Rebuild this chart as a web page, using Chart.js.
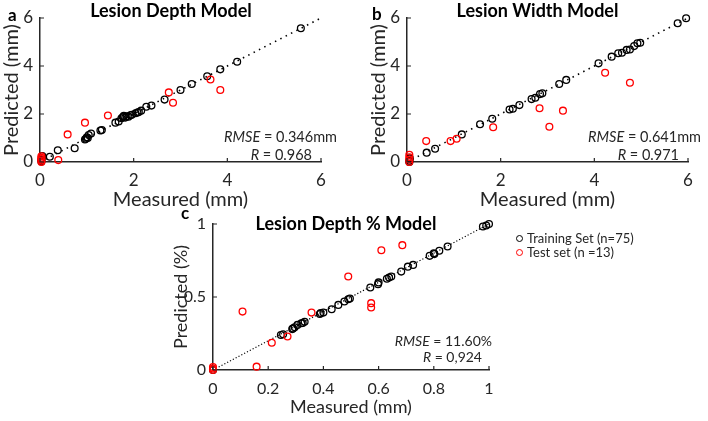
<!DOCTYPE html>
<html>
<head>
<meta charset="utf-8">
<script src="https://cdn.jsdelivr.net/npm/chart.js@4"></script>
<style>
  body { margin: 0; background: #fff; width: 708px; height: 421px; position: relative; overflow: hidden;
         font-family: Lato, "Open Sans", sans-serif; }
  canvas { position: absolute; }
  .title { position: absolute; font-weight: bold; color: #000; text-align: center; font-size: 18px; line-height: 20px; white-space: nowrap; }
  .letter { position: absolute; font-weight: bold; color: #000; font-size: 17px; line-height: 18px; }
  .ann { position: absolute; color: #262626; font-size: 14.5px; line-height: 18px; text-align: right; white-space: nowrap; }
  .leg { position: absolute; left: 516px; color: #262626; font-size: 13px; line-height: 14px; white-space: nowrap; }
  .leg span { display: inline-block; width: 5px; height: 5px; border-radius: 50%; border: 1.2px solid #000; margin-right: 4px; vertical-align: 1px; }
</style>
</head>
<body>
<canvas id="chartA" width="350" height="212" style="left:0;top:0"></canvas>
<canvas id="chartB" width="358" height="212" style="left:350px;top:0"></canvas>
<canvas id="chartC" width="340" height="221" style="left:170px;top:200px"></canvas>

<div class="letter" style="left:8px;top:6px">a</div>
<div class="letter" style="left:372px;top:5px">b</div>
<div class="letter" style="left:181px;top:204px">c</div>

<div class="title" style="left:0;width:342px;top:0">Lesion Depth Model</div>
<div class="title" style="left:437px;width:201px;top:0">Lesion Width Model</div>
<div class="title" style="left:246px;width:200px;top:213px">Lesion Depth % Model</div>

<div class="ann" style="right:371px;top:128px"><i>RMSE</i> = 0.346mm</div>
<div class="ann" style="right:396px;top:146px"><i>R</i> = 0.968</div>
<div class="ann" style="right:7px;top:128px"><i>RMSE</i> = 0.641mm</div>
<div class="ann" style="right:29px;top:146px"><i>R</i> = 0.971</div>
<div class="ann" style="right:216px;top:332px;font-size:14px"><i>RMSE</i> = 11.60%</div>
<div class="ann" style="right:226px;top:348px;font-size:14px"><i>R</i> = 0,924</div>

<div class="leg" style="top:231px"><span></span>Training Set (n=75)</div>
<div class="leg" style="top:245px"><span style="border-color:#f00"></span>Test set (n =13)</div>

<script>
// a: lesion depth (mm)
const depthTrainMeasured  = [0.03, 0.03, 0.05, 0.21, 0.38, 0.74, 0.96, 0.98, 1.0, 1.02, 1.04, 1.09, 1.29, 1.32, 1.61, 1.68, 1.74, 1.77, 1.79, 1.82, 1.85, 1.89, 1.93, 1.96, 2.04, 2.08, 2.11, 2.16, 2.27, 2.38, 2.66, 3.0, 3.24, 3.57, 3.85, 4.21, 5.57];
const depthTrainPredicted = [0.02, 0.08, 0.25, 0.22, 0.49, 0.57, 0.94, 0.97, 1.03, 1.0, 1.12, 1.19, 1.31, 1.33, 1.64, 1.69, 1.82, 1.87, 1.92, 1.85, 1.9, 1.89, 1.95, 1.97, 2.03, 2.06, 2.08, 2.14, 2.3, 2.35, 2.6, 3.0, 3.25, 3.57, 3.86, 4.18, 5.57];
const depthTestMeasured   = [0.03, 0.03, 0.03, 0.03, 0.03, 0.39, 0.59, 0.96, 1.45, 2.75, 2.84, 3.64, 3.85];
const depthTestPredicted  = [0.0, 0.06, 0.12, 0.18, 0.24, 0.08, 1.15, 1.64, 1.94, 2.9, 2.47, 3.44, 3.0];

// b: lesion width (mm)
const widthTrainMeasured  = [0.05, 0.05, 0.06, 0.42, 0.6, 1.17, 1.56, 1.82, 2.19, 2.26, 2.4, 2.66, 2.74, 2.84, 2.89, 3.25, 3.4, 4.09, 4.37, 4.51, 4.59, 4.69, 4.76, 4.85, 4.92, 4.98, 5.78, 5.96];
const widthTrainPredicted = [0.0, 0.05, 0.15, 0.39, 0.55, 1.15, 1.57, 1.8, 2.19, 2.22, 2.37, 2.62, 2.68, 2.83, 2.86, 3.25, 3.42, 4.11, 4.39, 4.53, 4.55, 4.67, 4.69, 4.83, 4.95, 4.97, 5.78, 5.99];
const widthTestMeasured   = [0.05, 0.05, 0.05, 0.05, 0.41, 0.93, 1.06, 1.84, 2.83, 3.04, 3.33, 4.23, 4.76];
const widthTestPredicted  = [0.0, 0.1, 0.2, 0.3, 0.87, 0.87, 0.97, 1.45, 2.24, 1.47, 2.14, 3.72, 3.3];

// c: lesion depth % (fraction)
const pctTrainMeasured  = [0, 0.246, 0.254, 0.287, 0.29, 0.296, 0.306, 0.32, 0.325, 0.332, 0.387, 0.39, 0.4, 0.43, 0.454, 0.476, 0.49, 0.496, 0.57, 0.598, 0.6, 0.63, 0.638, 0.646, 0.682, 0.706, 0.725, 0.785, 0.8, 0.802, 0.82, 0.85, 0.978, 0.99, 1.0];
const pctTrainPredicted = [0, 0.24, 0.245, 0.28, 0.285, 0.293, 0.309, 0.32, 0.322, 0.33, 0.384, 0.39, 0.393, 0.416, 0.446, 0.469, 0.485, 0.49, 0.565, 0.588, 0.6, 0.625, 0.633, 0.64, 0.674, 0.708, 0.72, 0.782, 0.8, 0.794, 0.817, 0.846, 0.983, 0.99, 1.0];
const pctTestMeasured   = [0, 0, 0, 0.107, 0.158, 0.213, 0.27, 0.357, 0.49, 0.573, 0.573, 0.61, 0.686];
const pctTestPredicted  = [0, 0.01, 0.02, 0.4, 0.023, 0.187, 0.229, 0.393, 0.64, 0.458, 0.428, 0.82, 0.855];

const mmTicks = [0, 2, 4, 6];
const pctTicksX = [0, 0.2, 0.4, 0.6, 0.8, 1];
const pctTicksY = [0, 0.5, 1];

const axisColor = '#262626';

function points(xs, ys) {
  return xs.map((x, i) => ({ x: x, y: ys[i] }));
}

// short tick marks pointing into the plot, like the original
const innerTicks = {
  id: 'innerTicks',
  afterDraw(chart) {
    const { ctx, chartArea, scales } = chart;
    ctx.save();
    ctx.strokeStyle = axisColor;
    ctx.lineWidth = 1.2;
    ctx.beginPath();
    scales.x.ticks.forEach(t => {
      const px = scales.x.getPixelForValue(t.value);
      ctx.moveTo(px, chartArea.bottom);
      ctx.lineTo(px, chartArea.bottom - 4);
    });
    scales.y.ticks.forEach(t => {
      const py = scales.y.getPixelForValue(t.value);
      ctx.moveTo(chartArea.left, py);
      ctx.lineTo(chartArea.left + 4, py);
    });
    ctx.stroke();
    ctx.restore();
  }
};

function makePanel(id, o) {
  new Chart(document.getElementById(id), {
    type: 'scatter',
    data: {
      datasets: [
        {
          data: points(o.testX, o.testY),
          borderColor: '#ff0000', backgroundColor: 'transparent',
          pointRadius: 3.4, borderWidth: 1.3, order: 0, clip: false
        },
        {
          data: points(o.trainX, o.trainY),
          borderColor: '#000', backgroundColor: 'transparent',
          pointRadius: 3.4, borderWidth: 1.3, order: 1, clip: false
        },
        {
          type: 'line',
          data: [{ x: 0, y: 0 }, { x: o.max, y: o.max }],
          borderColor: '#000', borderWidth: o.dotWidth, borderDash: o.dash,
          pointRadius: 0, fill: false, order: 2, clip: false
        }
      ]
    },
    options: {
      responsive: false,
      animation: false,
      devicePixelRatio: 1,
      events: [],
      layout: { padding: o.padding },
      plugins: { legend: { display: false }, tooltip: { enabled: false } },
      scales: {
        x: {
          type: 'linear', min: 0, max: o.max,
          afterBuildTicks: s => { s.ticks = o.ticksX.map(v => ({ value: v })); },
          afterFit: s => { s.height = o.xHeight; },
          grid: { display: false, drawTicks: false },
          border: { display: true, color: axisColor, width: 1.5 },
          ticks: { color: axisColor, padding: o.tickPadX, font: { family: 'Lato', size: o.tickSize }, callback: v => String(v) },
          title: { display: true, text: 'Measured (mm)', color: axisColor, font: { family: 'Lato', size: o.titleSize }, padding: { top: 0, bottom: o.xTitlePad } }
        },
        y: {
          type: 'linear', min: 0, max: o.maxY,
          afterBuildTicks: s => { s.ticks = o.ticksY.map(v => ({ value: v })); },
          afterFit: s => { s.width = o.yWidth; },
          grid: { display: false, drawTicks: false },
          border: { display: true, color: axisColor, width: 1.5 },
          ticks: { color: axisColor, padding: 7, font: { family: 'Lato', size: o.tickSize }, callback: v => String(v) },
          title: { display: true, text: o.yTitle, color: axisColor, font: { family: 'Lato', size: o.titleSize }, padding: { top: 0, bottom: 0 } }
        }
      }
    },
    plugins: [innerTicks]
  });
}

makePanel('chartA', {
  trainX: depthTrainMeasured, trainY: depthTrainPredicted,
  testX: depthTestMeasured, testY: depthTestPredicted,
  max: 6, maxY: 6, ticksX: mmTicks, ticksY: mmTicks,
  yTitle: 'Predicted (mm)', padding: { left: 0, top: 18, right: 29, bottom: 0 },
  xHeight: 50, yWidth: 40, tickPadX: 8, tickSize: 17, titleSize: 20, xTitlePad: 0,
  dash: [1.5, 4.5], dotWidth: 1.6
});

makePanel('chartB', {
  trainX: widthTrainMeasured, trainY: widthTrainPredicted,
  testX: widthTestMeasured, testY: widthTestPredicted,
  max: 6, maxY: 6, ticksX: mmTicks, ticksY: mmTicks,
  yTitle: 'Predicted (mm)', padding: { left: 17, top: 18, right: 20, bottom: 0 },
  xHeight: 50, yWidth: 40, tickPadX: 8, tickSize: 17, titleSize: 20, xTitlePad: 0,
  dash: [1.5, 4.5], dotWidth: 1.6
});

makePanel('chartC', {
  trainX: pctTrainMeasured, trainY: pctTrainPredicted,
  testX: pctTestMeasured, testY: pctTestPredicted,
  max: 1, maxY: 1, ticksX: pctTicksX, ticksY: pctTicksY,
  yTitle: 'Predicted (%)', padding: { left: 0, top: 24, right: 21, bottom: 0 },
  xHeight: 51, yWidth: 43, tickPadX: 9, tickSize: 16, titleSize: 18, xTitlePad: 2.7,
  dash: [1.2, 2], dotWidth: 1.2
});
</script>
</body>
</html>
